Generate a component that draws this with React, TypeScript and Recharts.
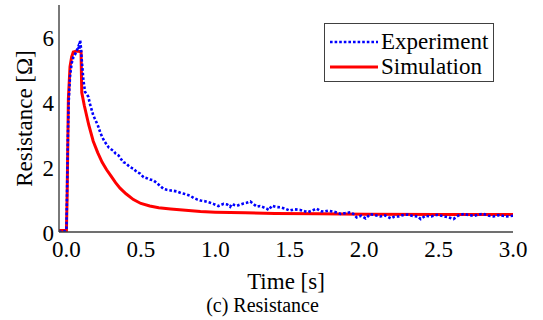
import { LineChart, Line, XAxis, YAxis, Legend } from 'recharts';

// time [s] and resistance [Ω]
const expTime = [
  -0.05, -0.03, -0.01, 0.0, 0.005, 0.01, 0.015, 0.024, 0.035, 0.047, 0.058, 0.07, 0.08, 0.087, 0.092, 0.097,
  0.103, 0.114, 0.125, 0.137, 0.147, 0.158, 0.17, 0.18, 0.19, 0.2, 0.215, 0.226, 0.24, 0.255, 0.27, 0.285,
  0.3, 0.316, 0.33, 0.35, 0.365, 0.383, 0.4, 0.415, 0.428, 0.45, 0.473, 0.495, 0.518, 0.54, 0.56, 0.585,
  0.61, 0.63, 0.652, 0.675, 0.7, 0.72, 0.742, 0.77, 0.79, 0.81, 0.83, 0.855, 0.88, 0.9, 0.93, 0.966,
  0.99, 1.02, 1.04, 1.056, 1.08, 1.1, 1.11, 1.13, 1.146, 1.17, 1.19, 1.21, 1.235, 1.26, 1.28, 1.3,
  1.325, 1.345, 1.36, 1.38, 1.41, 1.44, 1.47, 1.5, 1.53, 1.57, 1.6, 1.62, 1.65, 1.68, 1.71, 1.73,
  1.76, 1.79, 1.82, 1.84, 1.87, 1.91, 1.93, 1.95, 1.98, 2.01, 2.04, 2.07, 2.11, 2.14, 2.18, 2.2,
  2.23, 2.26, 2.29, 2.32, 2.36, 2.38, 2.41, 2.45, 2.49, 2.52, 2.56, 2.6, 2.63, 2.67, 2.7, 2.74,
  2.77, 2.8, 2.84, 2.87, 2.9, 2.93, 2.96, 3.0,
];
const expValue = [
  0.02, 0.0, 0.03, 0.05, 1.5, 3.0, 4.0, 4.8, 5.2, 5.4, 5.48, 5.6, 5.72, 5.62, 5.92, 5.7,
  5.3, 4.68, 4.32, 4.25, 4.17, 3.95, 3.76, 3.6, 3.5, 3.4, 3.24, 3.08, 2.93, 2.8, 2.7, 2.6,
  2.55, 2.5, 2.42, 2.36, 2.26, 2.15, 2.12, 2.05, 2.0, 1.95, 1.85, 1.8, 1.69, 1.66, 1.62, 1.59,
  1.5, 1.42, 1.33, 1.3, 1.28, 1.27, 1.25, 1.2, 1.18, 1.15, 1.12, 1.05, 1.0, 0.97, 0.95, 0.9,
  0.86, 0.8, 0.84, 0.87, 0.85, 0.78, 0.86, 0.83, 0.81, 0.85, 0.88, 0.9, 0.94, 0.85, 0.78, 0.8,
  0.76, 0.72, 0.68, 0.81, 0.77, 0.76, 0.72, 0.66, 0.7, 0.68, 0.64, 0.61, 0.66, 0.72, 0.64, 0.63,
  0.66, 0.63, 0.6, 0.56, 0.58, 0.61, 0.55, 0.45, 0.5, 0.42, 0.55, 0.52, 0.48, 0.51, 0.42, 0.47,
  0.48, 0.52, 0.54, 0.5, 0.48, 0.4, 0.5, 0.48, 0.53, 0.5, 0.46, 0.4, 0.5, 0.56, 0.52, 0.5,
  0.54, 0.56, 0.5, 0.48, 0.52, 0.5, 0.48, 0.5,
];
const simTime = [
  -0.05, 0.0, 0.005, 0.013, 0.024, 0.035, 0.046, 0.07, 0.098, 0.103, 0.12, 0.15, 0.18, 0.21, 0.24, 0.27,
  0.3, 0.33, 0.36, 0.4, 0.45, 0.5, 0.56, 0.62, 0.7, 0.8, 0.9, 1.0, 1.2, 1.4, 1.7, 2.0, 2.5, 3.0,
];
const simValue = [
  0.05, 0.05, 1.2, 4.1, 5.1, 5.4, 5.55, 5.58, 5.56, 4.3, 3.9, 3.3, 2.8, 2.45, 2.15, 1.92,
  1.72, 1.52, 1.35, 1.18, 1.0, 0.88, 0.8, 0.75, 0.71, 0.67, 0.63, 0.61, 0.59, 0.57, 0.56, 0.55, 0.54, 0.54,
];

const xTicks = [0, 0.5, 1, 1.5, 2, 2.5, 3];
const yTicks = [0, 2, 4, 6];
const yMinorTicks = [1, 3, 5];

const experiment = expTime.map((t, i) => ({ t, r: expValue[i] }));
const simulation = simTime.map((t, i) => ({ t, r: simValue[i] }));

const font = '"Liberation Serif", "Times New Roman", serif';
const frame = '#404040';
const xDomain: [number, number] = [-0.05, 3];
const yDomain: [number, number] = [0, 7];
const textStyle = { fontFamily: font, fontSize: 23, fill: '#000' };

const XTick = ({ x, y, payload }: any) => (
  <text x={x} y={y} dy={16} textAnchor="middle" style={textStyle}>
    {Number(payload.value).toFixed(1)}
  </text>
);

const YTick = ({ x, y, payload }: any) => (
  <text x={x} y={y} dy={9} textAnchor="end" style={textStyle}>
    {payload.value}
  </text>
);

const XTitle = ({ viewBox }: any) => (
  <text x={viewBox.x + viewBox.width / 2} y={viewBox.y + 57} textAnchor="middle" style={textStyle}>
    Time [s]
  </text>
);

const YTitle = ({ viewBox }: any) => {
  const cx = viewBox.x + 32;
  const cy = viewBox.y + viewBox.height / 2;
  return (
    <text x={cx} y={cy} textAnchor="middle" transform={`rotate(-90 ${cx} ${cy})`} style={textStyle}>
      Resistance [Ω]
    </text>
  );
};

const LegendBox = () => (
  <div
    style={{
      width: 168,
      height: 57,
      border: `1px solid ${frame}`,
      background: '#fff',
      fontFamily: font,
      fontSize: 23,
      color: '#000',
      boxSizing: 'content-box',
    }}
  >
    {[
      { name: 'Experiment', color: '#0000ff', dash: '2.6 2' },
      { name: 'Simulation', color: '#ff0000', dash: undefined },
    ].map((row, i) => (
      <div key={row.name} style={{ display: 'flex', alignItems: 'center', height: 25, marginTop: i === 0 ? 5 : 0 }}>
        <svg width={54} height={10} style={{ marginLeft: 5 }}>
          <line x1={0} y1={5} x2={48} y2={5} stroke={row.color} strokeWidth={row.dash ? 2.6 : 3} strokeDasharray={row.dash} />
        </svg>
        <span style={{ lineHeight: '25px', marginLeft: -3 }}>{row.name}</span>
      </div>
    ))}
  </div>
);

export default function App() {
  return (
    <div style={{ position: 'absolute', left: 0, top: 0, width: 543, height: 320, background: '#fff', fontFamily: font }}>
      <LineChart width={543} height={320} margin={{ top: 5, right: 30, bottom: 58, left: 0 }}>
        <XAxis
          dataKey="t"
          type="number"
          domain={xDomain}
          allowDataOverflow
          ticks={xTicks}
          tickLine={false}
          tickSize={6}
          tickMargin={3}
          height={30}
          axisLine={{ stroke: frame, strokeWidth: 1.4 }}
          tick={<XTick />}
          label={<XTitle />}
        />
        <XAxis xAxisId="bottomTicks" type="number" domain={xDomain} allowDataOverflow ticks={xTicks} orientation="bottom" mirror height={0} tick={false} axisLine={false} tickSize={5} tickLine={{ stroke: frame, strokeWidth: 1.2 }} />
        <XAxis xAxisId="top" type="number" domain={xDomain} allowDataOverflow ticks={xTicks} orientation="top" mirror height={0} tick={false} axisLine={{ stroke: frame, strokeWidth: 1.4 }} tickSize={5} tickLine={{ stroke: frame, strokeWidth: 1.2 }} />
        <YAxis
          type="number"
          domain={yDomain}
          allowDataOverflow
          ticks={yTicks}
          width={59}
          tickLine={false}
          tickSize={3}
          tickMargin={2}
          axisLine={{ stroke: frame, strokeWidth: 1.4 }}
          tick={<YTick />}
          label={<YTitle />}
        />
        <YAxis yAxisId="leftMajor" type="number" domain={yDomain} allowDataOverflow ticks={yTicks} mirror width={0} tick={false} axisLine={false} tickSize={5} tickLine={{ stroke: frame, strokeWidth: 1.2 }} />
        <YAxis yAxisId="leftMinor" type="number" domain={yDomain} allowDataOverflow ticks={yMinorTicks} mirror width={0} tick={false} axisLine={false} tickSize={3} tickLine={{ stroke: frame, strokeWidth: 1.2 }} />
        <YAxis yAxisId="rightMajor" type="number" domain={yDomain} allowDataOverflow ticks={yTicks} orientation="right" mirror width={0} tick={false} axisLine={{ stroke: frame, strokeWidth: 1.4 }} tickSize={5} tickLine={{ stroke: frame, strokeWidth: 1.2 }} />
        <YAxis yAxisId="rightMinor" type="number" domain={yDomain} allowDataOverflow ticks={yMinorTicks} orientation="right" mirror width={0} tick={false} axisLine={false} tickSize={3} tickLine={{ stroke: frame, strokeWidth: 1.2 }} />
        <Line data={simulation} dataKey="r" name="Simulation" type="linear" stroke="#ff0000" strokeWidth={3} dot={false} isAnimationActive={false} />
        <Line data={experiment} dataKey="r" name="Experiment" type="linear" stroke="#0000ff" strokeWidth={2.6} strokeDasharray="2.6 2" dot={false} isAnimationActive={false} />
        <Legend
          layout="horizontal"
          verticalAlign="middle"
          align="center"
          content={() => <LegendBox />}
          wrapperStyle={{ position: 'absolute', left: 324, top: 23, width: 170, height: 59 }}
        />
      </LineChart>
      <div
        style={{
          position: 'absolute',
          left: 0,
          top: 293,
          width: 525,
          textAlign: 'center',
          fontSize: 20,
          lineHeight: '24px',
          color: '#000',
        }}
      >
        (c) Resistance
      </div>
    </div>
  );
}
